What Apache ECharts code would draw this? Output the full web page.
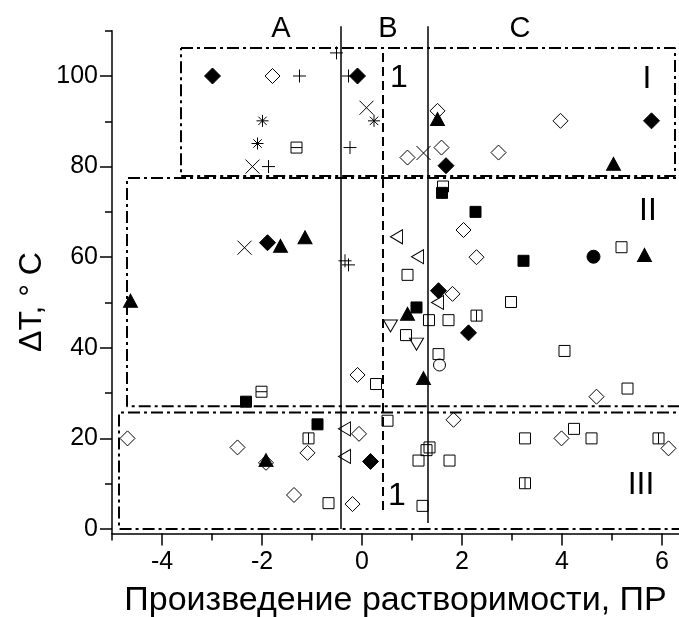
<!DOCTYPE html>
<html>
<head>
<meta charset="utf-8">
<script src="https://cdn.jsdelivr.net/npm/echarts@6.0.0/dist/echarts.min.js"></script>
<style>
    html, body { margin: 0; padding: 0; background: #fff; }
    #chart { width: 679px; height: 617px; }
</style>
</head>
<body>
<div id="chart"></div>
<script>
;(function () {
    "use strict";

    // tick values
    const xTicks = [-4, -2, 0, 2, 4, 6];
    const xMinorTicks = [-5, -4, -3, -2, -1, 0, 1, 2, 3, 4, 5, 6];
    const yTicks = [0, 20, 40, 60, 80, 100];
    const yMinorTicks = [0, 10, 20, 30, 40, 50, 60, 70, 80, 90, 100, 110];

    // points, [ПР, ΔT]
    const filledDiamond = [[-2.99, 100], [-0.09, 100], [1.68, 80.2], [5.79, 90.1], [-1.89, 63.2],
        [1.53, 52.6], [2.13, 43.3], [0.17, 14.9]];
    const openDiamond = [[-1.79, 100], [1.51, 92.3], [3.97, 90.1], [0.91, 82], [1.59, 84.2], [2.73, 83.1],
        [2.03, 66], [2.29, 60], [1.81, 51.9], [-0.09, 34], [4.69, 29.2], [1.83, 24.1], [3.99, 20],
        [6.13, 17.8], [-4.69, 20], [-0.06, 21], [-2.49, 18], [-1.09, 16.8], [-1.92, 14.6], [-1.36, 7.5],
        [-0.19, 5.5]];
    const plusPts = [[-1.25, 100], [-0.51, 105.1], [-0.27, 100], [-0.24, 84.2], [-1.87, 80],
        [-0.34, 59.2], [-0.27, 58.3]];
    const crossPts = [[0.09, 93], [1.23, 83], [-2.19, 80], [-2.35, 62.1]];
    const starPts = [[0.24, 90.1], [-1.99, 90.1], [-2.09, 85.1]];
    const squareH = [[-1.31, 84.2], [-2.01, 30.3]];
    const squareV = [[2.29, 47.1], [5.93, 20], [3.26, 10.1], [-1.07, 20]];
    const filledTriangle = [[1.51, 90.5], [5.03, 80.6], [-1.63, 62.5], [-1.14, 64.4], [-4.63, 50.4],
        [5.65, 60.5], [0.91, 47.5], [1.23, 33.3], [-1.92, 15.2]];
    const filledSquare = [[1.6, 74.2], [2.27, 70], [3.23, 59.2], [1.09, 48.9], [-2.32, 28.1], [-0.89, 23.1]];
    const openSquare = [[1.62, 75.6], [5.19, 62.2], [0.91, 56.1], [2.98, 50.1], [1.34, 46.1], [1.73, 46.1],
        [0.88, 42.8], [4.05, 39.3], [1.53, 38.6], [5.31, 31], [0.28, 32], [0.51, 23.9], [3.26, 20],
        [4.24, 22.1], [4.59, 20], [1.35, 18], [1.29, 17.4], [1.13, 15.1], [1.75, 15.1], [1.21, 5.1],
        [-0.67, 5.7]];
    const openTriLeft = [[0.69, 64.5], [1.11, 60.1], [1.51, 50], [-0.35, 22.1], [-0.35, 16]];
    const openTriDown = [[0.57, 44.8], [1.09, 40.8]];
    const filledCircle = [[4.63, 60.1]];
    const openCircle = [[1.55, 36.2]];

    // region boxes and dividing lines
    const box1 = [[-3.62, 106.2], [6.26, 106.2], [6.26, 77.9], [-3.62, 77.9], [-3.62, 106.2]];
    const box2 = [[6.6, 77.5], [-4.7, 77.5], [-4.7, 27.1], [6.6, 27.1]];
    const box3 = [[6.6, 25.7], [-4.86, 25.7], [-4.86, 0], [6.6, 0]];
    const lineA = [[-0.42, 0], [-0.42, 111]];
    const lineC = [[1.32, 1.3], [1.32, 111]];
    const lineB = [[0.42, 4.2], [0.42, 106.2]];

    const FONT = "Liberation Sans";
    const dashDot = [12, 4, 3, 4];

    function pts(data, symbol, size, filled) {
        return {
            type: "scatter",
            data: data,
            symbol: symbol,
            symbolSize: size,
            z: 5,
            itemStyle: {
                color: filled ? "#000" : "none",
                borderColor: "#000",
                borderWidth: 1,
                opacity: 1
            }
        };
    }
    function guide(data, dash, width, clip) {
        return {
            type: "line",
            data: data,
            symbol: "none",
            silent: true,
            clip: clip,
            z: 2,
            lineStyle: { color: "#000", width: width, type: dash }
        };
    }
    function label(text, x, y, size) {
        return {
            type: "text", x: x, y: y,
            style: { text: text, fontSize: size, fontFamily: FONT, fill: "#000", align: "center", verticalAlign: "middle" }
        };
    }

    const axisCommon = { type: "value", splitLine: { show: false } };
    const tickStyle = { color: "#000", width: 1.5 };

    const myChart = echarts.init(document.getElementById("chart"));
    const options = {
        animation: false,
        grid: { left: 112, right: 0, top: 30.7, bottom: 83.5, outerBoundsMode: "none" },
        xAxis: [
            Object.assign({}, axisCommon, {
                min: -5, max: 6.34, position: "bottom",
                axisLine: { onZero: false, lineStyle: tickStyle },
                axisTick: { customValues: xMinorTicks, length: 7, lineStyle: tickStyle },
                axisLabel: { show: false }
            }),
            Object.assign({}, axisCommon, {
                min: -5, max: 6.34, position: "bottom",
                axisLine: { show: false, onZero: false },
                axisTick: { customValues: xTicks, length: 12, lineStyle: tickStyle },
                axisLabel: { customValues: xTicks, color: "#000", fontSize: 25, fontFamily: FONT, margin: 16 },
                name: "Произведение растворимости, ПР",
                nameLocation: "middle",
                nameGap: 50,
                nameTextStyle: { color: "#000", fontSize: 34, fontFamily: FONT }
            })
        ],
        yAxis: [
            Object.assign({}, axisCommon, {
                min: -1, max: 110, position: "left",
                axisLine: { onZero: false, lineStyle: tickStyle },
                axisTick: { customValues: yMinorTicks, length: 7, lineStyle: tickStyle },
                axisLabel: { show: false }
            }),
            Object.assign({}, axisCommon, {
                min: -1, max: 110, position: "left",
                axisLine: { show: false, onZero: false },
                axisTick: { customValues: yTicks, length: 12, lineStyle: tickStyle },
                axisLabel: { customValues: yTicks, color: "#000", fontSize: 25, fontFamily: FONT, margin: 14 }
            })
        ],
        graphic: [
            {
                type: "text", x: 32, y: 302, rotation: Math.PI / 2,
                style: { text: "ΔT, ° C", fontSize: 32, fontFamily: FONT, fill: "#000", align: "center", verticalAlign: "middle" }
            },
            label("A", 281, 29, 29),
            label("B", 388, 29, 29),
            label("C", 520, 29, 29),
            label("1", 399, 78, 32),
            label("I", 647, 79, 32),
            label("II", 648, 211, 32),
            label("III", 641, 485, 32),
            label("1", 397, 496, 32)
        ],
        series: [
            guide(box1, dashDot, 2, true),
            guide(box2, dashDot, 2, true),
            guide(box3, dashDot, 2, true),
            guide(lineA, "solid", 1.5, false),
            guide(lineC, "solid", 1.5, false),
            guide(lineB, [9, 5], 2, false),
            pts(openSquare, "rect", 11, false),
            pts(squareH, "path://M0,0L10,0L10,10L0,10ZM0,5L10,5", 11, false),
            pts(squareV, "path://M0,0L10,0L10,10L0,10ZM5,0L5,10", 11, false),
            pts(openDiamond, "diamond", 15, false),
            pts(openTriLeft, "path://M10,0L0,5L10,10Z", [12, 14], false),
            pts(openTriDown, "path://M0,0L10,0L5,9Z", [14, 12], false),
            pts(openCircle, "circle", 12, false),
            pts(plusPts, "path://M0,5L10,5M5,0L5,10", 13, false),
            pts(crossPts, "path://M0,0L10,10M10,0L0,10", 14, false),
            pts(starPts, "path://M0,5L10,5M5,0L5,10M1.5,1.5L8.5,8.5M8.5,1.5L1.5,8.5", 12, false),
            pts(filledSquare, "rect", 11, true),
            pts(filledDiamond, "diamond", 16, true),
            pts(filledTriangle, "triangle", [14, 13], true),
            pts(filledCircle, "circle", 13, true)
        ]
    };
    myChart.setOption(options);
})();
</script>
</body>
</html>
